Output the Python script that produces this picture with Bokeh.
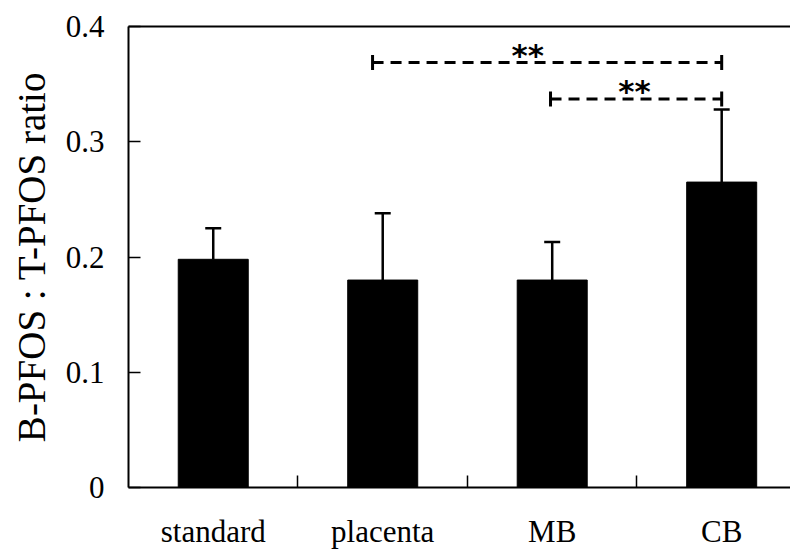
import numpy as np
from bokeh.plotting import figure
from bokeh.models import (Range1d, FixedTicker, LinearAxis, Whisker, TeeHead,
                          ColumnDataSource)
from bokeh.core.properties import value
from bokeh.embed import file_html
from bokeh.resources import INLINE

# ---- data ----
categories = ["standard", "placenta", "MB", "CB"]
means = [0.198, 0.180, 0.180, 0.265]
errors = [0.027, 0.058, 0.033, 0.063]

# significance brackets (x in category index units, y in ratio units)
bracket_start = [0.94, 1.99]
bracket_end = [3.0, 3.0]
bracket_level = [0.3687, 0.337]
star_pos = [1.855, 2.485]
star_text = ["**", "**"]

y_ticks = [0, 0.1, 0.2, 0.3, 0.4]

xs = list(range(len(categories)))
src = ColumnDataSource(dict(
    x=xs, mean=means, upper=[m + e for m, e in zip(means, errors)]))

SERIF = "Liberation Serif"

p = figure(width=790, height=551,
           x_range=Range1d(-0.5, 3.406), y_range=Range1d(0, 0.4),
           output_backend="svg", toolbar_location=None,
           min_border_left=128, min_border_right=0,
           min_border_top=26, min_border_bottom=61)
p.outline_line_color = None
p.xgrid.visible = False
p.ygrid.visible = False
p.background_fill_color = "white"
p.border_fill_color = "white"

# bars
p.vbar(x="x", top="mean", width=0.413, source=src,
       fill_color="black", line_color="black")

# error bars (upper only)
wh = Whisker(base="x", lower="mean", upper="upper", source=src,
             line_color="black", line_width=2.5,
             upper_head=TeeHead(size=16, line_color="black", line_width=2.5),
             lower_head=None)
p.add_layout(wh)

# significance brackets
bsrc = ColumnDataSource(dict(x0=bracket_start, x1=bracket_end, y=bracket_level,
                             sx=star_pos, st=star_text))
p.segment(x0="x0", y0="y", x1="x1", y1="y", source=bsrc,
          line_color="black", line_width=3, line_dash="11 7")
p.dash(x="x0", y="y", source=bsrc, size=15, angle=np.pi / 2,
       line_color="black", line_width=3)
p.dash(x="x1", y="y", source=bsrc, size=15, angle=np.pi / 2,
       line_color="black", line_width=3)
p.text(x="sx", y="y", text="st", source=bsrc,
       text_font=value("DejaVu Sans"), text_font_style="bold",
       text_font_size="31px", text_align="center",
       text_baseline="alphabetic", y_offset=-8, text_color="black")

# x axis
xa = p.xaxis[0]
xa.ticker = FixedTicker(ticks=xs, minor_ticks=[0.5, 1.5, 2.5])
xa.major_label_overrides = {i: c for i, c in enumerate(categories)}
xa.major_tick_in = 0
xa.major_tick_out = 0
xa.minor_tick_in = 12
xa.minor_tick_out = 0
xa.minor_tick_line_width = 1.5
xa.minor_tick_line_color = "black"
xa.axis_line_width = 2
xa.axis_line_color = "black"
xa.major_label_text_font = SERIF
xa.major_label_text_font_size = "31px"
xa.major_label_text_color = "black"
xa.major_label_standoff = 26

# y axis
ya = p.yaxis[0]
ya.ticker = FixedTicker(ticks=y_ticks)
ya.major_label_overrides = {0: "0"}
ya.major_tick_in = 12
ya.major_tick_out = 0
ya.major_tick_line_width = 1.5
ya.major_tick_line_color = "black"
ya.minor_tick_line_color = None
ya.axis_line_width = 2
ya.axis_line_color = "black"
ya.major_label_text_font = SERIF
ya.major_label_text_font_size = "31px"
ya.major_label_text_color = "black"
ya.major_label_standoff = 24
ya.axis_label = "B-PFOS : T-PFOS ratio"
ya.axis_label_text_font = SERIF
ya.axis_label_text_font_size = "39px"
ya.axis_label_text_font_style = "normal"
ya.axis_label_text_color = "black"
ya.axis_label_standoff = 10

# top border line
top = LinearAxis(ticker=FixedTicker(ticks=[]), major_label_text_font_size="0px",
                 major_tick_in=0, major_tick_out=0, minor_tick_line_color=None,
                 axis_line_width=2, axis_line_color="black", major_label_standoff=0)
p.add_layout(top, "above")

open("out.html", "w").write(file_html(p, INLINE))
